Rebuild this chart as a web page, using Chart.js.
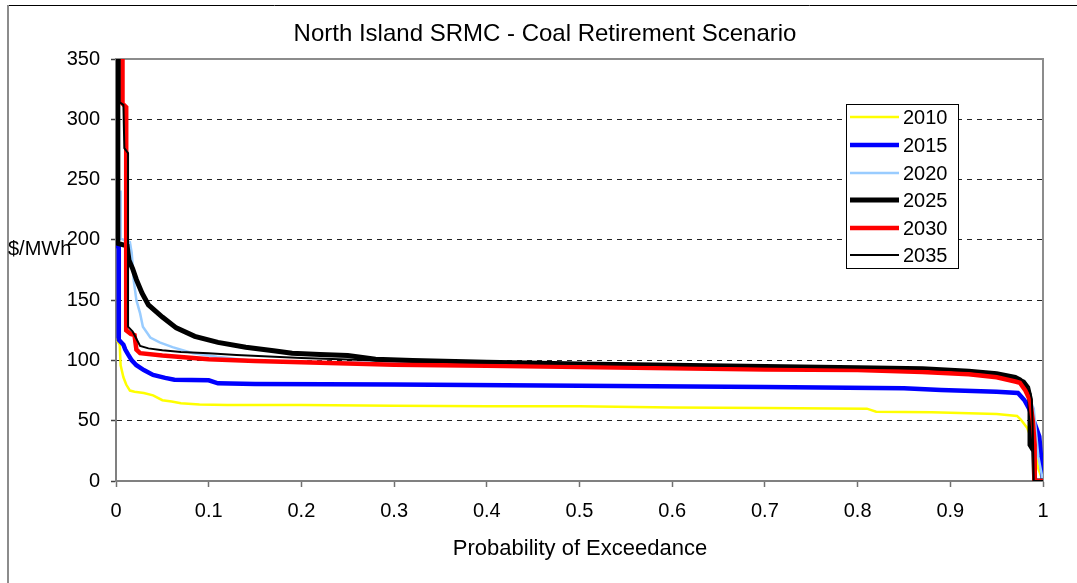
<!DOCTYPE html>
<html>
<head>
<meta charset="utf-8">
<script src="https://cdn.jsdelivr.net/npm/chart.js@4.4.1/dist/chart.umd.min.js"></script>
<style>
  html, body { margin: 0; padding: 0; background: #fff; }
  #wrap { width: 1077px; height: 583px; }
</style>
</head>
<body>
<div id="wrap"><canvas id="c" width="1077" height="583"></canvas></div>
<script>
// Price-duration curves: probability of exceedance (x) vs SRMC in $/MWh (y)
const years = ['2010', '2015', '2020', '2025', '2030', '2035'];

const exceed2010 = [0, 0.004, 0.005, 0.008, 0.011, 0.015, 0.02, 0.03, 0.04, 0.05, 0.06, 0.07, 0.09, 0.12, 0.2, 0.3, 0.4, 0.5, 0.6, 0.7, 0.81, 0.82, 0.88, 0.95, 0.972, 0.976, 0.983, 0.99, 0.995, 1];
const price2010  = [118, 113, 96, 86, 80, 75, 74, 73, 71, 67, 66, 64.5, 63.5, 63, 63, 62.5, 62, 62, 61, 60.5, 60, 57.5, 57, 55.5, 54, 51, 44, 30, 10, 0];

const exceed2015 = [0, 0.003, 0.003, 0.008, 0.01, 0.013, 0.017, 0.022, 0.03, 0.04, 0.053, 0.063, 0.1, 0.11, 0.15, 0.3, 0.5, 0.7, 0.85, 0.89, 0.95, 0.973, 0.98, 0.985, 0.99, 0.996, 1];
const price2015  = [195, 194, 117, 113, 109, 105, 100, 96, 92, 88, 85.5, 84, 83.5, 81, 80.5, 80, 79, 78, 77, 75.5, 74, 73, 67, 60, 50, 37, 0];

const exceed2020 = [0, 0.005, 0.005, 0.015, 0.017, 0.019, 0.022, 0.026, 0.029, 0.037, 0.047, 0.061, 0.083, 0.109, 0.145, 0.18, 0.3, 0.5, 0.7, 0.9, 0.95, 0.97, 0.98, 0.99, 0.995, 1];
const price2020  = [240, 240, 201, 198, 189, 167, 150, 139, 128, 119, 115, 111, 106, 103, 100, 99, 98, 95.5, 93.5, 90, 87, 84, 78, 60, 20, 0];

const exceed2025 = [0, 0.002, 0.002, 0.012, 0.014, 0.018, 0.022, 0.028, 0.035, 0.05, 0.065, 0.085, 0.11, 0.14, 0.17, 0.19, 0.22, 0.25, 0.28, 0.32, 0.4, 0.5, 0.6, 0.7, 0.8, 0.87, 0.92, 0.95, 0.97, 0.975, 0.98, 0.985, 0.986, 0.986, 0.99, 0.991, 1];
const price2025  = [360, 360, 197, 195, 183, 176, 167, 156, 146, 136, 127, 120, 115, 111, 108, 106, 105, 104, 101, 100, 98.5, 97, 96, 95, 94, 93, 91, 89, 86, 84, 80, 72, 65, 30, 25, 0, 0];

const exceed2030 = [0, 0.007, 0.007, 0.011, 0.011, 0.016, 0.02, 0.022, 0.026, 0.05, 0.1, 0.15, 0.2, 0.3, 0.4, 0.5, 0.6, 0.7, 0.8, 0.87, 0.92, 0.95, 0.97, 0.975, 0.981, 0.986, 0.989, 0.991, 0.991, 1];
const price2030  = [360, 360, 313, 310, 125, 122, 121, 109, 106, 104, 101, 99.5, 98.5, 96.5, 95.5, 94.5, 93.5, 92.5, 92, 90.5, 88.5, 86, 82.5, 81.5, 75, 67, 50, 30, 0, 0];

const exceed2035 = [0, 0.004, 0.004, 0.008, 0.009, 0.013, 0.013, 0.018, 0.022, 0.026, 0.035, 0.05, 0.07, 0.1, 0.13, 0.2, 0.3, 0.4, 0.5, 0.6, 0.7, 0.8, 0.87, 0.92, 0.95, 0.97, 0.98, 0.985, 0.988, 0.989, 0.99, 1];
const price2035  = [360, 360, 314, 312, 276, 272, 128, 124, 118, 112, 110, 108.5, 107, 106, 104.5, 102, 99.5, 98, 97, 96, 95, 94, 93, 91.5, 89.5, 86.5, 83, 78, 68, 40, 0, 0];

const xTickValues = [0, 0.1, 0.2, 0.3, 0.4, 0.5, 0.6, 0.7, 0.8, 0.9, 1];
const yTickValues = [0, 50, 100, 150, 200, 250, 300, 350];

const seriesX = [exceed2010, exceed2015, exceed2020, exceed2025, exceed2030, exceed2035];
const seriesY = [price2010, price2015, price2020, price2025, price2030, price2035];
const lineColors = ['#FFFF00', '#0000FF', '#99CCFF', '#000000', '#FF0000', '#000000'];
const lineWidths = [2.5, 4.5, 2.5, 5, 4.5, 2];

const FONT = "'Liberation Sans', Arial, sans-serif";

const datasets = years.map((yr, i) => ({
  label: yr,
  data: seriesX[i].map((x, k) => ({ x: x, y: seriesY[i][k] })),
  borderColor: lineColors[i],
  backgroundColor: lineColors[i],
  borderWidth: lineWidths[i],
  pointRadius: 0,
  tension: 0,
  fill: false,
  order: years.length - i
}));

// Outer frame, plot frame, titles and the boxed legend
const decor = {
  id: 'decor',
  beforeDatasetsDraw(chart) {
    const { ctx, chartArea: a } = chart;
    ctx.save();
    ctx.strokeStyle = '#8c8c8c';
    ctx.lineWidth = 2;
    ctx.beginPath();
    ctx.moveTo(a.left, a.top);
    ctx.lineTo(a.right, a.top);
    ctx.lineTo(a.right, a.bottom);
    ctx.stroke();
    ctx.restore();
  },
  afterDraw(chart) {
    const { ctx } = chart;
    ctx.save();
    // outer frame
    ctx.strokeStyle = '#000';
    ctx.lineWidth = 1;
    ctx.beginPath();
    ctx.moveTo(7, 5.5);
    ctx.lineTo(1077, 5.5);
    ctx.stroke();
    ctx.strokeStyle = '#8c8c8c';
    ctx.lineWidth = 2;
    ctx.beginPath();
    ctx.moveTo(8, 5);
    ctx.lineTo(8, 583);
    ctx.stroke();

    ctx.fillStyle = '#000';
    ctx.textBaseline = 'alphabetic';
    ctx.textAlign = 'center';
    ctx.font = '24px ' + FONT;
    ctx.fillText('North Island SRMC - Coal Retirement Scenario', 545, 41);
    ctx.font = '22px ' + FONT;
    ctx.fillText('Probability of Exceedance', 580, 555);
    ctx.textAlign = 'left';
    ctx.font = '20px ' + FONT;
    ctx.fillText('$/MWh', 8, 255);

    // legend
    const lx = 846, ly = 104, lw = 112, lh = 164;
    ctx.fillStyle = '#fff';
    ctx.fillRect(lx, ly, lw, lh);
    ctx.strokeStyle = '#000';
    ctx.lineWidth = 1;
    ctx.strokeRect(lx + 0.5, ly + 0.5, lw, lh);
    const rowY = [117, 145, 173, 200, 228, 255];
    chart.data.datasets.forEach((ds, i) => {
      const y = rowY[i];
      ctx.strokeStyle = ds.borderColor;
      ctx.lineWidth = ds.borderWidth;
      ctx.beginPath();
      ctx.moveTo(850, y);
      ctx.lineTo(899, y);
      ctx.stroke();
      ctx.fillStyle = '#000';
      ctx.textBaseline = 'middle';
      ctx.textAlign = 'left';
      ctx.font = '20px ' + FONT;
      ctx.fillText(ds.label, 903, y + 1);
    });
    ctx.restore();
  }
};

new Chart(document.getElementById('c'), {
  type: 'line',
  data: { datasets: datasets },
  plugins: [decor],
  options: {
    responsive: false,
    animation: false,
    events: [],
    layout: { padding: { top: 59, right: 34, left: 0, bottom: 0 } },
    plugins: { legend: { display: false }, title: { display: false }, tooltip: { enabled: false } },
    scales: {
      x: {
        type: 'linear',
        min: 0,
        max: 1,
        afterFit(scale) { scale.height = 102; },
        afterBuildTicks(scale) { scale.ticks = xTickValues.map(v => ({ value: v })); },
        ticks: {
          color: '#000',
          font: { family: FONT, size: 20 },
          padding: 12,
          maxRotation: 0,
          autoSkip: false,
          callback: v => String(+v.toFixed(1))
        },
        grid: { drawOnChartArea: false, drawTicks: true, tickLength: 6, tickColor: '#707070', tickWidth: 1.5 },
        border: { display: true, color: '#808080', width: 2 }
      },
      y: {
        type: 'linear',
        min: 0,
        max: 350,
        afterFit(scale) { scale.width = 116; },
        afterBuildTicks(scale) { scale.ticks = yTickValues.map(v => ({ value: v })); },
        ticks: {
          color: '#000',
          font: { family: FONT, size: 20 },
          padding: 11,
          autoSkip: false
        },
        grid: {
          drawOnChartArea: true,
          drawTicks: true,
          tickLength: 5,
          tickColor: '#404040',
          tickWidth: 1.5,
          lineWidth: 1,
          color: ctx => (ctx.tick && (ctx.tick.value === 0 || ctx.tick.value === 350)) ? 'rgba(0,0,0,0)' : '#222'
        },
        border: { display: true, color: '#808080', width: 2, dash: [5, 5] }
      }
    }
  }
});
</script>
</body>
</html>
